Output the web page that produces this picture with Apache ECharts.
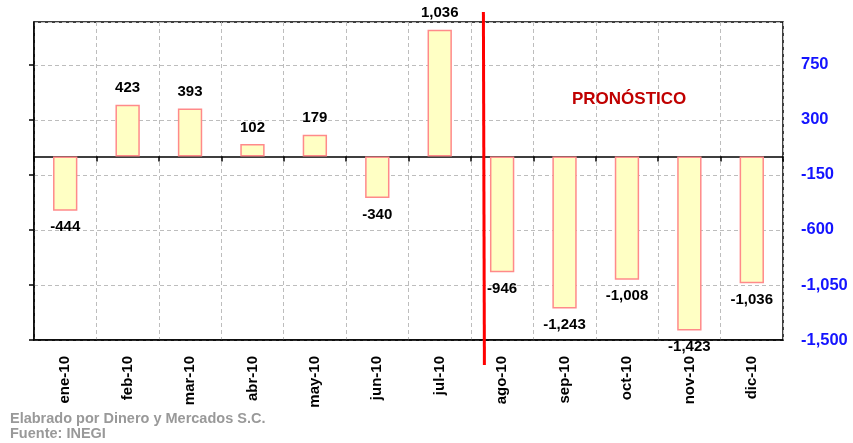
<!DOCTYPE html>
<html>
<head>
<meta charset="utf-8">
<script src="https://cdn.jsdelivr.net/npm/echarts@6/dist/echarts.min.js"></script>
<style>
html, body { margin: 0; padding: 0; background: #fff; }
#main { width: 853px; height: 443px; }
</style>
</head>
<body>
<div id="main"></div>
<script>
// meses y saldo (real hasta jul-10, pronóstico desde ago-10)
var months = ['ene-10', 'feb-10', 'mar-10', 'abr-10', 'may-10', 'jun-10', 'jul-10', 'ago-10', 'sep-10', 'oct-10', 'nov-10', 'dic-10'];
var values = [-444, 423, 393, 102, 179, -340, 1036, -946, -1243, -1008, -1423, -1036];
var yTicks = [-1500, -1050, -600, -150, 300, 750];

var font = '"Liberation Sans", Arial, sans-serif';

function fmt(v) {
    return v.toLocaleString('en-US');
}

var myChart = echarts.init(document.getElementById('main'));

var gridLine = { show: true, lineStyle: { color: '#bdbdbd', type: [4, 3], width: 1 } };

myChart.setOption({
    animation: false,
    textStyle: { fontFamily: font },
    grid: {
        left: 34, right: 70, top: 22, bottom: 103,
        show: true, borderColor: '#000', borderWidth: 1.5, backgroundColor: '#fff'
    },
    xAxis: [{
        type: 'category',
        data: months,
        position: 'bottom',
        axisLine: { onZero: false, lineStyle: { color: '#000', width: 1.5 } },
        axisTick: { show: false },
        splitLine: gridLine,
        axisLabel: {
            rotate: 90, margin: 16, color: '#000',
            fontWeight: 'bold', fontSize: 15, fontFamily: font
        }
    }, {
        type: 'category',
        data: months,
        position: 'top',
        axisLine: { onZero: true, onZeroAxisIndex: 0, lineStyle: { color: '#000', width: 1.5 } },
        axisTick: { show: true, inside: true, length: 5, lineStyle: { color: '#000', width: 1.5 } },
        axisLabel: { show: false },
        splitLine: { show: false }
    }],
    yAxis: [{
        type: 'value',
        position: 'right',
        min: -1500, max: 1100, interval: 450,
        axisLine: { show: false },
        axisTick: { show: false },
        splitLine: gridLine,
        axisLabel: {
            customValues: yTicks,
            margin: 18, color: '#1414ff', fontWeight: 'bold', fontSize: 16.5,
            align: 'left', fontFamily: font,
            formatter: function (v) { return fmt(v); }
        }
    }, {
        type: 'value',
        position: 'left',
        min: -1500, max: 1100, interval: 450,
        axisLine: { show: true, lineStyle: { color: '#000', width: 1.5 } },
        axisTick: { show: true, length: 5, customValues: yTicks, lineStyle: { color: '#000', width: 1.5 } },
        axisLabel: { show: false },
        splitLine: { show: false }
    }],
    series: [{
        type: 'bar',
        xAxisIndex: 0,
        yAxisIndex: 0,
        barWidth: '39%',
        data: values.map(function (v) {
            return { value: v, label: { position: v >= 0 ? 'top' : 'bottom' } };
        }),
        itemStyle: { color: '#ffffc4', borderColor: '#ff8a8a', borderWidth: 1.5 },
        label: {
            show: true, distance: 9, color: '#000',
            fontWeight: 'bold', fontSize: 15, fontFamily: font,
            formatter: function (p) { return fmt(p.value); }
        }
    }]
});

// línea roja que separa dato real de pronóstico
var xJul = myChart.convertToPixel({ xAxisIndex: 0 }, 'jul-10');
var xAgo = myChart.convertToPixel({ xAxisIndex: 0 }, 'ago-10');
var xSep = xJul + (xAgo - xJul) * 0.7;

myChart.setOption({
    graphic: [{
        type: 'line',
        shape: { x1: xSep, y1: 12, x2: xSep + 1, y2: 365 },
        style: { stroke: '#ff0000', lineWidth: 3 },
        z: 100
    }, {
        type: 'text',
        left: 572, top: 91,
        style: { text: 'PRONÓSTICO', fill: '#c00000', font: 'bold 17px ' + font },
        z: 100
    }, {
        type: 'text',
        left: 10, top: 411,
        style: {
            text: 'Elabrado por Dinero y Mercados S.C.\nFuente: INEGI',
            fill: '#999999', font: 'bold 14.5px ' + font, lineHeight: 15
        }
    }]
});

window.onresize = function () {
    myChart.resize();
};
</script>
</body>
</html>
